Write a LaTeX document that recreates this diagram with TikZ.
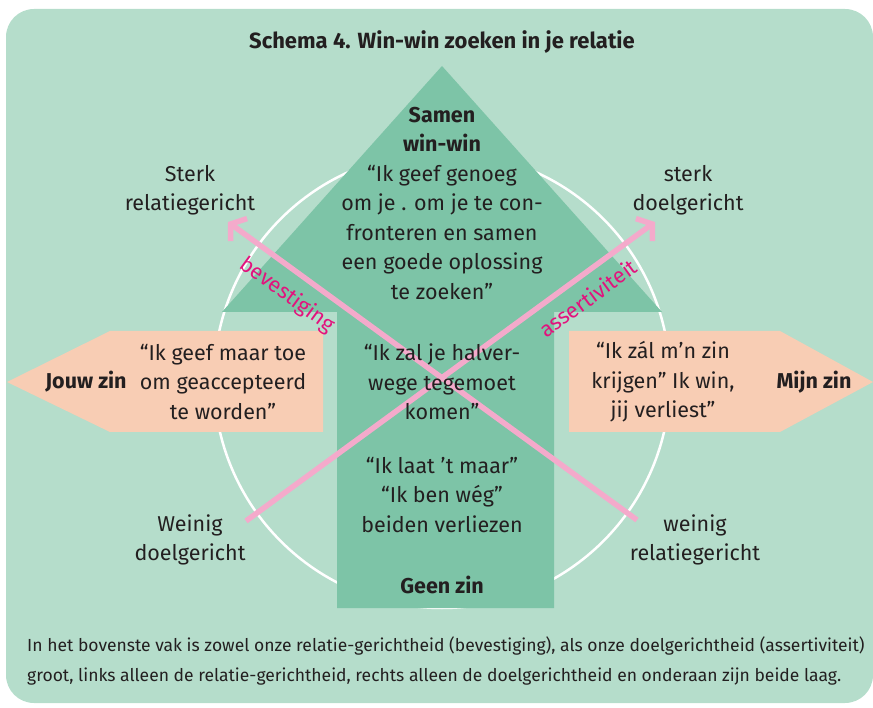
\documentclass[tikz,border=0pt]{standalone}
\usepackage{fontspec}
\setmainfont{Fira Sans}
\usetikzlibrary{arrows.meta}

\definecolor{bgmint}{HTML}{B5DDCB}
\definecolor{arrowgreen}{HTML}{7DC4A7}
\definecolor{peach}{HTML}{F8CDB4}
\definecolor{pinkline}{HTML}{F4AACB}
\definecolor{magentatext}{HTML}{E2137D}
\definecolor{inktext}{HTML}{231F20}

\tikzset{
  txt/.style={align=center, font=\fontsize{21.5}{29.5}\selectfont, text=inktext, inner sep=0pt},
  boldtxt/.style={txt, font=\fontsize{21.5}{29.5}\selectfont\bfseries},
  axislabel/.style={font=\fontsize{21.5}{22}\selectfont, text=magentatext, inner sep=0pt},
  axisarrow/.style={pinkline, line width=5.5pt, -{Straight Barb[length=10pt,width=28pt]}},
}

\begin{document}
\begin{tikzpicture}[x=1pt,y=-1pt]
  \useasboundingbox (0,0) rectangle (873,708);
  \fill[bgmint, rounded corners=28pt] (6,9) rectangle (873,703);

  \node[boldtxt, font=\fontsize{22}{24}\selectfont\bfseries] (title) at (442,42) {Schema 4. Win-win zoeken in je relatie};

  % white circle behind the shapes
  \draw[white, line width=2.5pt] (442,380) circle[radius=228];

  % green arrow pointing up
  \fill[arrowgreen] (337,608) -- (337,312) -- (222,312) -- (442,66) -- (662,312)
    -- (554,312) -- (554,608) -- cycle;

  % peach arrows left and right
  \fill[peach] (7,382) -- (110,331) -- (323,331) -- (323,432) -- (110,432) -- cycle;
  \fill[peach] (569,331) -- (780,331) -- (873,382) -- (780,432) -- (569,432) -- cycle;

  % axes
  \coordinate (lowgoal) at (246,521);
  \coordinate (highgoal) at (655,222);
  \coordinate (lowrel) at (637,520);
  \coordinate (highrel) at (228,222);
  \draw[axisarrow] (lowgoal) -- (highgoal);
  \draw[axisarrow] (lowrel) -- (highrel);
  \node[axislabel, rotate=-36.1] (bev) at (287,295) {bevestiging};
  \node[axislabel, rotate=36.2] (ass) at (588,298) {assertiviteit};

  % texts
  \node[txt] (samen) at (442,203) {{\bfseries Samen}\\{\bfseries win-win}\\“Ik geef genoeg\\om je . om je te con-\\fronteren en samen\\een goede oplossing\\te zoeken”};
  \node[txt] (midden) at (442,382) {“Ik zal je halver-\\wege tegemoet\\komen”};
  \node[txt] (laat) at (442,495) {“Ik laat ’t maar”\\“Ik ben wég”\\beiden verliezen};
  \node[boldtxt] (geen) at (442,585) {Geen zin};

  \node[txt] (sterkrel) at (190,190) {Sterk\\relatiegericht};
  \node[txt] (sterkdoel) at (688,190) {sterk\\doelgericht};
  \node[txt] (weinigdoel) at (190,540) {Weinig\\doelgericht};
  \node[txt] (weinigrel) at (695,540) {weinig\\relatiegericht};

  \node[boldtxt] (jouw) at (86,382) {Jouw zin};
  \node[txt] (toe) at (223,382) {“Ik geef maar toe\\om geaccepteerd\\te worden”};
  \node[txt] (krijgen) at (663,382) {“Ik zál m’n zin\\krijgen” Ik win,\\jij verliest”};
  \node[boldtxt] (mijn) at (814,382) {Mijn zin};

  \node[txt, align=left, anchor=west, font=\fontsize{17.5}{30}\selectfont] (uitleg) at (27,661)
    {In het bovenste vak is zowel onze relatie-gerichtheid (bevestiging), als onze doelgerichtheid (assertiviteit)\\groot, links alleen de relatie-gerichtheid, rechts alleen de doelgerichtheid en onderaan zijn beide laag.};
\end{tikzpicture}
\end{document}
